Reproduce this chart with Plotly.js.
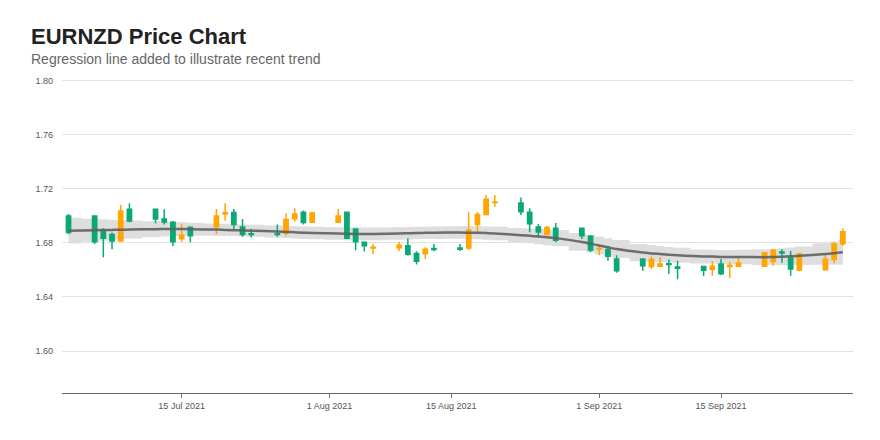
<!DOCTYPE html>
<html>
<head>
<meta charset="utf-8">
<script src="https://cdn.plot.ly/plotly-3.0.1.min.js"></script>
<style>html,body{margin:0;padding:0;background:#fff}</style>
</head>
<body>
<div id="chart" style="width:880px;height:440px"></div>
<script>
var dates = [
  '2021-07-02',
  '2021-07-05','2021-07-06','2021-07-07','2021-07-08','2021-07-09',
  '2021-07-12','2021-07-13','2021-07-14','2021-07-15','2021-07-16',
  '2021-07-19','2021-07-20','2021-07-21','2021-07-22','2021-07-23',
  '2021-07-26','2021-07-27','2021-07-28','2021-07-29','2021-07-30',
  '2021-08-02','2021-08-03','2021-08-04','2021-08-05','2021-08-06',
  '2021-08-09','2021-08-10','2021-08-11','2021-08-12','2021-08-13',
  '2021-08-16','2021-08-17','2021-08-18','2021-08-19','2021-08-20',
  '2021-08-23','2021-08-24','2021-08-25','2021-08-26','2021-08-27',
  '2021-08-30','2021-08-31','2021-09-01','2021-09-02','2021-09-03',
  '2021-09-06','2021-09-07','2021-09-08','2021-09-09','2021-09-10',
  '2021-09-13','2021-09-14','2021-09-15','2021-09-16','2021-09-17',
  '2021-09-20','2021-09-21','2021-09-22','2021-09-23','2021-09-24',
  '2021-09-27','2021-09-28','2021-09-29'
];

var open = [
  1.7000,
  1.7000, 1.6891, 1.6862, 1.6815, 1.7049,
  1.7049, 1.6978, 1.6953, 1.6832, 1.6916,
  1.6921, 1.7015, 1.7025, 1.6919, 1.6869,
  1.6869, 1.6872, 1.6980, 1.7027, 1.6953,
  1.6953, 1.7027, 1.6904, 1.6805, 1.6763,
  1.6765, 1.6780, 1.6723, 1.6723, 1.6760,
  1.6763, 1.6763, 1.6936, 1.7010, 1.7099,
  1.7096, 1.7027, 1.6919, 1.6862, 1.6909,
  1.6909, 1.6849, 1.6755, 1.6751, 1.6681,
  1.6681, 1.6625, 1.6627, 1.6647, 1.6622,
  1.6625, 1.6605, 1.6644, 1.6625, 1.6627,
  1.6627, 1.6662, 1.6733, 1.6689, 1.6600,
  1.6602, 1.6677, 1.6795
];
var high = [
  1.7015,
  1.7002, 1.6909, 1.6877, 1.7081, 1.7094,
  1.7050, 1.7049, 1.6963, 1.6941, 1.6917,
  1.7052, 1.7094, 1.7052, 1.6978, 1.6906,
  1.6936, 1.7020, 1.7057, 1.7040, 1.7032,
  1.7052, 1.7028, 1.6905, 1.6806, 1.6793,
  1.6807, 1.6835, 1.6738, 1.6768, 1.6793,
  1.6793, 1.7027, 1.7030, 1.7156, 1.7156,
  1.7136, 1.7057, 1.6941, 1.6926, 1.6948,
  1.6910, 1.6859, 1.6783, 1.6778, 1.6709,
  1.6682, 1.6699, 1.6696, 1.6677, 1.6669,
  1.6626, 1.6667, 1.6681, 1.6659, 1.6704,
  1.6733, 1.6756, 1.6753, 1.6741, 1.6728,
  1.6716, 1.6810, 1.6909
];
var low = [
  1.6864,
  1.6793, 1.6694, 1.6753, 1.6810, 1.6953,
  1.6946, 1.6936, 1.6778, 1.6810, 1.6805,
  1.6864, 1.6965, 1.6901, 1.6847, 1.6840,
  1.6847, 1.6852, 1.6958, 1.6936, 1.6948,
  1.6952, 1.6830, 1.6746, 1.6736, 1.6716,
  1.6741, 1.6706, 1.6640, 1.6681, 1.6738,
  1.6741, 1.6748, 1.6872, 1.7009, 1.7067,
  1.7007, 1.6879, 1.6847, 1.6857, 1.6805,
  1.6830, 1.6733, 1.6709, 1.6669, 1.6580,
  1.6595, 1.6607, 1.6625, 1.6570, 1.6531,
  1.6556, 1.6558, 1.6563, 1.6541, 1.6620,
  1.6626, 1.6632, 1.6654, 1.6558, 1.6590,
  1.6600, 1.6649, 1.6780
];
var close = [
  1.6877,
  1.6810, 1.6835, 1.6815, 1.7037, 1.6963,
  1.6978, 1.6956, 1.6810, 1.6857, 1.6854,
  1.7000, 1.7025, 1.6936, 1.6862, 1.6862,
  1.6862, 1.6973, 1.7015, 1.6951, 1.7022,
  1.7000, 1.6835, 1.6810, 1.6780, 1.6768,
  1.6783, 1.6716, 1.6664, 1.6753, 1.6751,
  1.6753, 1.6894, 1.7010, 1.7123, 1.7104,
  1.7032, 1.6943, 1.6881, 1.6914, 1.6820,
  1.6854, 1.6748, 1.6760, 1.6701, 1.6595,
  1.6632, 1.6679, 1.6644, 1.6640, 1.6612,
  1.6598, 1.6627, 1.6573, 1.6635, 1.6652,
  1.6728, 1.6746, 1.6726, 1.6607, 1.6719,
  1.6679, 1.6793, 1.6884
];

// smoothed trend and its band
var trend = [
  1.6891,
  1.6894, 1.6896, 1.6897, 1.6898, 1.6900,
  1.6902, 1.6903, 1.6903, 1.6903, 1.6902,
  1.6899, 1.6897, 1.6895, 1.6893, 1.6891,
  1.6885, 1.6882, 1.6879, 1.6876, 1.6874,
  1.6870, 1.6868, 1.6867, 1.6867, 1.6867,
  1.6870, 1.6872, 1.6874, 1.6875, 1.6876,
  1.6877, 1.6876, 1.6875, 1.6873, 1.6870,
  1.6858, 1.6853, 1.6848, 1.6843, 1.6836,
  1.6808, 1.6795, 1.6781, 1.6768, 1.6755,
  1.6729, 1.6723, 1.6718, 1.6713, 1.6709,
  1.6700, 1.6699, 1.6697, 1.6696, 1.6696,
  1.6695, 1.6696, 1.6698, 1.6701, 1.6705,
  1.6718, 1.6724, 1.6731
];
var trendUpper = [
  1.6986,
  1.6979, 1.6976, 1.6972, 1.6968, 1.6966,
  1.6960, 1.6958, 1.6955, 1.6953, 1.6950,
  1.6944, 1.6942, 1.6939, 1.6937, 1.6935,
  1.6929, 1.6927, 1.6924, 1.6922, 1.6920,
  1.6917, 1.6915, 1.6914, 1.6914, 1.6914,
  1.6916, 1.6918, 1.6920, 1.6921, 1.6922,
  1.6923, 1.6923, 1.6923, 1.6922, 1.6920,
  1.6911, 1.6908, 1.6905, 1.6902, 1.6897,
  1.6873, 1.6861, 1.6848, 1.6835, 1.6822,
  1.6793, 1.6785, 1.6778, 1.6771, 1.6765,
  1.6752, 1.6750, 1.6748, 1.6748, 1.6749,
  1.6753, 1.6756, 1.6761, 1.6767, 1.6774,
  1.6798, 1.6810, 1.6823
];
var trendLower = [
  1.6796,
  1.6809, 1.6816, 1.6822, 1.6828, 1.6834,
  1.6844, 1.6848, 1.6851, 1.6853, 1.6854,
  1.6854, 1.6852, 1.6851, 1.6849, 1.6847,
  1.6841, 1.6837, 1.6834, 1.6830, 1.6828,
  1.6823, 1.6821, 1.6820, 1.6820, 1.6820,
  1.6824, 1.6826, 1.6828, 1.6829, 1.6830,
  1.6831, 1.6829, 1.6827, 1.6824, 1.6820,
  1.6805, 1.6798, 1.6791, 1.6784, 1.6775,
  1.6743, 1.6729, 1.6714, 1.6701, 1.6688,
  1.6665, 1.6661, 1.6658, 1.6655, 1.6653,
  1.6648, 1.6648, 1.6646, 1.6644, 1.6643,
  1.6637, 1.6636, 1.6635, 1.6635, 1.6636,
  1.6638, 1.6638, 1.6639
];

var yTickVals = [1.60, 1.64, 1.68, 1.72, 1.76, 1.80];
var xTickVals = ['2021-07-15', '2021-08-01', '2021-08-15', '2021-09-01', '2021-09-15'];
var xTickText = ['15 Jul 2021', '1 Aug 2021', '15 Aug 2021', '1 Sep 2021', '15 Sep 2021'];

var xRange = ['2021-07-01 06:00', '2021-09-30 04:00'];
var yRange = [1.5689, 1.8044];

var upColor = '#ffa600';
var downColor = '#0aa877';

// band sits on the base axes, candles and trend on an overlay so they draw on top
var traces = [
  {
    x: dates, y: trendLower,
    type: 'scatter', mode: 'lines',
    line: { width: 0, shape: 'hvh' },
    hoverinfo: 'skip', showlegend: false
  },
  {
    x: dates, y: trendUpper,
    type: 'scatter', mode: 'lines',
    fill: 'tonexty', fillcolor: '#dedede',
    line: { width: 0, shape: 'hvh' },
    hoverinfo: 'skip', showlegend: false
  },
  {
    x: dates, open: open, high: high, low: low, close: close,
    type: 'candlestick',
    xaxis: 'x2', yaxis: 'y2',
    increasing: { line: { color: upColor, width: 1.5 }, fillcolor: upColor },
    decreasing: { line: { color: downColor, width: 1.5 }, fillcolor: downColor },
    whiskerwidth: 0,
    showlegend: false
  },
  {
    x: dates, y: trend,
    type: 'scatter', mode: 'lines',
    xaxis: 'x2', yaxis: 'y2',
    line: { color: '#606060', width: 2.5, shape: 'spline' },
    opacity: 0.9,
    hoverinfo: 'skip', showlegend: false
  }
];

var layout = {
  width: 880,
  height: 440,
  margin: { l: 62, r: 27, t: 75, b: 47 },
  paper_bgcolor: '#ffffff',
  plot_bgcolor: '#ffffff',
  font: { family: 'Liberation Sans, Arial, sans-serif', color: '#555' },
  showlegend: false,
  xaxis: {
    type: 'date',
    range: xRange,
    rangeslider: { visible: false },
    tickvals: xTickVals,
    ticktext: xTickText,
    ticks: 'outside',
    ticklen: 4,
    tickcolor: '#777',
    tickfont: { size: 9, color: '#555' },
    showgrid: false,
    showline: true,
    linecolor: '#666',
    linewidth: 1,
    zeroline: false
  },
  yaxis: {
    range: yRange,
    tickvals: yTickVals,
    tickformat: '.2f',
    ticks: '',
    ticklabelstandoff: 8,
    tickfont: { size: 9, color: '#555' },
    showgrid: true,
    gridcolor: '#e2e2e2',
    gridwidth: 1,
    zeroline: false,
    showline: false
  },
  xaxis2: {
    type: 'date',
    overlaying: 'x',
    range: xRange,
    rangeslider: { visible: false },
    visible: false
  },
  yaxis2: {
    overlaying: 'y',
    range: yRange,
    visible: false
  },
  annotations: [
    {
      text: '<b>EURNZD Price Chart</b>',
      xref: 'paper', yref: 'paper',
      x: -0.0417, y: 1.1217,
      xanchor: 'left', yanchor: 'middle',
      showarrow: false,
      font: { size: 22, color: '#222' }
    },
    {
      text: 'Regression line added to illustrate recent trend',
      xref: 'paper', yref: 'paper',
      x: -0.0417, y: 1.0503,
      xanchor: 'left', yanchor: 'middle',
      showarrow: false,
      font: { size: 14, color: '#666' }
    }
  ]
};

Plotly.newPlot('chart', traces, layout, { displayModeBar: false, staticPlot: true });
</script>
</body>
</html>
